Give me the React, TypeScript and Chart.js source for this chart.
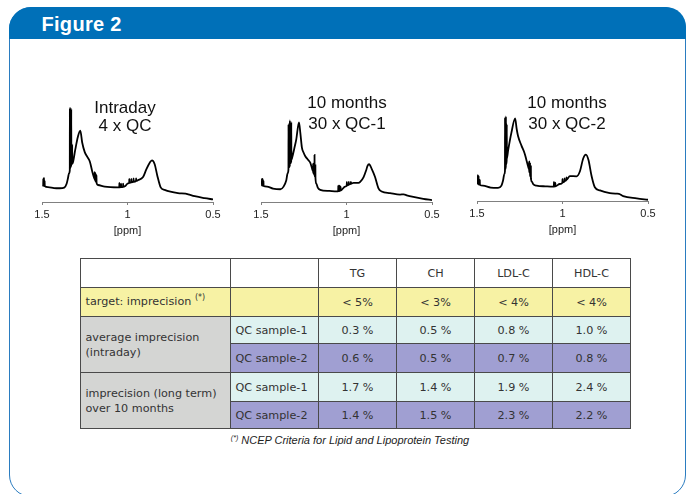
import React, { useEffect, useRef } from "react";
import { Chart, registerables } from "chart.js";

Chart.register(...registerables);

// ---------- data ----------
const ppmTicks = [1.5, 1, 0.5];

const intradaySpectrum: [number, number][] = [
  [1.497, 17.5], [1.493, 17], [1.4925, 24], [1.492, 17],
  [1.489, 16.8], [1.4885, 25], [1.488, 16.8],
  [1.485, 16.5], [1.4845, 22], [1.484, 16.5],
  [1.465, 15.5], [1.43, 14.5], [1.396, 14.3], [1.37, 15], [1.356, 19],
  [1.348, 25], [1.342, 30],
  [1.3375, 33], [1.337, 98], [1.3365, 35],
  [1.3335, 36], [1.333, 98], [1.3325, 37],
  [1.3295, 38], [1.329, 97], [1.3285, 39],
  [1.324, 40], [1.3235, 60], [1.323, 40],
  [1.318, 42], [1.305, 55], [1.29, 68], [1.276, 74.3], [1.265, 62],
  [1.25, 52], [1.235, 47], [1.22, 42], [1.205, 31], [1.195, 25],
  [1.1925, 24], [1.192, 31], [1.1915, 23.5],
  [1.188, 22.5], [1.1875, 30], [1.187, 22],
  [1.182, 21], [1.1815, 28], [1.181, 20],
  [1.173, 17.7], [1.133, 16], [1.056, 15.3],
  [1.048, 15.3], [1.0475, 20], [1.047, 15.3],
  [1.038, 15.4], [1.0375, 19], [1.037, 15.4],
  [1.026, 15.8], [1.0255, 19], [1.025, 15.8],
  [1.013, 16.7], [0.997, 19.5],
  [0.99, 20], [0.9895, 24], [0.989, 20],
  [0.978, 20.5], [0.9775, 24], [0.977, 20.5],
  [0.965, 21], [0.9645, 24.5], [0.964, 21],
  [0.95, 22], [0.9495, 24.5], [0.949, 22],
  [0.939, 22.7], [0.909, 26], [0.89, 34], [0.87, 41], [0.857, 43.3],
  [0.841, 39.3], [0.826, 27.7], [0.806, 15.3], [0.783, 12.7], [0.705, 9.3],
  [0.66, 8.7], [0.645, 8], [0.607, 6], [0.549, 4], [0.5, 2.7],
];

const qc1Spectrum: [number, number][] = [
  [1.498, 17.7],
  [1.495, 17.5], [1.4945, 24], [1.494, 17.3],
  [1.491, 17.2], [1.4905, 24], [1.49, 17],
  [1.486, 16.8], [1.4855, 22], [1.485, 16.6],
  [1.465, 16], [1.43, 14], [1.387, 13.3], [1.368, 16], [1.352, 22.7], [1.344, 30],
  [1.3395, 34], [1.339, 81], [1.3385, 36],
  [1.3315, 38], [1.331, 85], [1.3305, 40],
  [1.3235, 42], [1.323, 83], [1.3225, 44],
  [1.318, 46], [1.305, 56], [1.294, 65], [1.278, 83], [1.27, 72], [1.261, 57],
  [1.25, 51], [1.241, 47.7], [1.225, 44], [1.212, 41], [1.2, 34],
  [1.1955, 32], [1.195, 40], [1.1945, 31],
  [1.1875, 29], [1.187, 49], [1.1865, 28],
  [1.1825, 26], [1.182, 38], [1.1815, 25],
  [1.176, 19], [1.168, 15], [1.154, 12.7], [1.1, 11.5], [1.056, 11],
  [1.0485, 11.2], [1.048, 17], [1.0475, 11.4],
  [1.0405, 11.6], [1.04, 17], [1.0395, 11.8],
  [1.035, 12], [1.0345, 16], [1.034, 12],
  [1.008, 16],
  [0.9985, 17], [0.998, 21], [0.9975, 17.2],
  [0.987, 18], [0.9865, 21], [0.986, 18.2],
  [0.975, 19], [0.9745, 21], [0.974, 19],
  [0.959, 20], [0.93, 20], [0.92, 21], [0.9, 26], [0.885, 33], [0.877, 37.7],
  [0.868, 39.3], [0.852, 34.3], [0.833, 26], [0.813, 14.3], [0.794, 11],
  [0.745, 9.3], [0.687, 7.7], [0.665, 8], [0.648, 7], [0.609, 5.3], [0.551, 3.3], [0.5, 2],
];

const qc2Spectrum: [number, number][] = [
  [1.5, 19.3],
  [1.496, 18.5], [1.4955, 27], [1.495, 18],
  [1.491, 17.5], [1.4905, 26], [1.49, 17.3],
  [1.484, 17], [1.4835, 22], [1.483, 16.8],
  [1.465, 16], [1.42, 14], [1.377, 13.7], [1.357, 16], [1.348, 21], [1.34, 28],
  [1.3365, 31], [1.336, 87], [1.3355, 33],
  [1.3315, 36], [1.331, 88], [1.3305, 38],
  [1.3265, 42], [1.326, 80], [1.3255, 44],
  [1.318, 52.7], [1.299, 71], [1.277, 86], [1.268, 75], [1.26, 67.7], [1.24, 57.7],
  [1.221, 49.3], [1.21, 42], [1.201, 36],
  [1.1955, 33], [1.195, 41], [1.1945, 31],
  [1.1905, 29], [1.19, 39], [1.1895, 27],
  [1.1855, 25], [1.185, 36], [1.1845, 23],
  [1.178, 20], [1.172, 17.7], [1.152, 16], [1.1, 15.3], [1.055, 15],
  [1.0505, 15], [1.05, 20], [1.0495, 15],
  [1.0425, 15.3], [1.042, 19], [1.0415, 15.3],
  [1.016, 17.7],
  [1.0005, 19], [1.0, 23], [0.9995, 19.3],
  [0.9885, 20.5], [0.988, 23.5], [0.9875, 20.8],
  [0.977, 22], [0.9765, 24.5], [0.976, 22.2],
  [0.957, 26], [0.918, 25.7], [0.898, 31], [0.879, 44.3], [0.863, 48.3],
  [0.848, 42.7], [0.83, 26], [0.811, 14.3], [0.781, 11], [0.723, 8.3],
  [0.684, 7.7], [0.67, 7.5], [0.645, 5], [0.566, 2.7], [0.5, 1.3],
];

const spectrumTitles = [
  ["Intraday", "4 x QC"],
  ["10 months", "30 x QC-1"],
  ["10 months", "30 x QC-2"],
];

const analytes = ["TG", "CH", "LDL-C", "HDL-C"];
const targetImprecision = ["< 5%", "< 3%", "< 4%", "< 4%"];
const intradayQc1 = ["0.3 %", "0.5 %", "0.8 %", "1.0 %"];
const intradayQc2 = ["0.6 %", "0.5 %", "0.7 %", "0.8 %"];
const longTermQc1 = ["1.7 %", "1.4 %", "1.9 %", "2.4 %"];
const longTermQc2 = ["1.4 %", "1.5 %", "2.3 %", "2.2 %"];

// ---------- styles ----------
const SANS = "'Liberation Sans', Arial, Helvetica, sans-serif";
const VERDANA = "'DejaVu Sans', Verdana, sans-serif";
const BLUE = "#0070b8";
const YELLOW = "#f7f2a4";
const CYAN = "#def2f0";
const LAVENDER = "#a09fd2";
const GRAY = "#d4d5d3";

function Spectrum({ data, left, top }: { data: [number, number][]; left: number; top: number }) {
  const ref = useRef<HTMLCanvasElement | null>(null);
  useEffect(() => {
    if (!ref.current) return;
    const chart = new Chart(ref.current, {
      type: "line",
      data: {
        datasets: [
          {
            data: data.map(([x, y]) => ({ x, y })),
            borderColor: "#000",
            borderWidth: 1.8,
            pointRadius: 0,
            fill: false,
            cubicInterpolationMode: "monotone",
          },
        ],
      },
      options: {
        animation: false,
        responsive: false,
        layout: { padding: { left: 14, right: 14, top: 4, bottom: 0.8 } },
        plugins: { legend: { display: false }, tooltip: { enabled: false } },
        scales: {
          x: {
            type: "linear",
            reverse: true,
            min: 0.5,
            max: 1.5,
            afterBuildTicks: (s: any) => {
              s.ticks = ppmTicks.map((v) => ({ value: v }));
            },
            ticks: {
              callback: (v: any) => String(v),
              font: { family: SANS, size: 11, lineHeight: 1 },
              color: "#222",
              padding: 4,
              maxRotation: 0,
              autoSkip: false,
            },
            grid: { display: true, drawOnChartArea: false, drawTicks: true, tickLength: 3, color: "#808080" },
            border: { display: true, color: "#808080", width: 1 },
            title: {
              display: true,
              text: "[ppm]",
              font: { family: SANS, size: 11 },
              color: "#222",
              padding: { top: 0, bottom: 0 },
            },
          },
          y: { display: false, min: 0, max: 100 },
        },
      } as any,
    });
    return () => chart.destroy();
  }, [data]);
  return (
    <canvas
      ref={ref}
      width={199}
      height={136}
      style={{ position: "absolute", left, top, width: 199, height: 136 }}
    />
  );
}

function Title({ lines, cx, baselines }: { lines: string[]; cx: number; baselines: number[] }) {
  return (
    <>
      {lines.map((t, i) => (
        <div
          key={i}
          style={{
            position: "absolute",
            left: cx - 100,
            width: 200,
            top: baselines[i] - 14.4,
            textAlign: "center",
            fontFamily: SANS,
            fontSize: 17,
            lineHeight: "17px",
            color: "#111",
            whiteSpace: "nowrap",
          }}
        >
          {t}
        </div>
      ))}
    </>
  );
}

const cell: React.CSSProperties = {
  border: "1px solid #4a4a4a",
  padding: "0 4.5px",
  fontFamily: VERDANA,
  fontSize: 11.2,
  color: "#333",
  verticalAlign: "middle",
  whiteSpace: "nowrap",
  lineHeight: "15px",
};

function ValueCells({ values, bg }: { values: string[]; bg: string }) {
  return (
    <>
      {values.map((v, i) => (
        <td key={i} style={{ ...cell, background: bg, textAlign: "center" }}>
          {v}
        </td>
      ))}
    </>
  );
}

function DataTable() {
  return (
    <table
      style={{
        position: "absolute",
        left: 80,
        top: 258,
        width: 550,
        borderCollapse: "collapse",
        tableLayout: "fixed",
      }}
    >
      <colgroup>
        <col style={{ width: 150 }} />
        <col style={{ width: 88 }} />
        <col style={{ width: 78 }} />
        <col style={{ width: 78 }} />
        <col style={{ width: 78 }} />
        <col style={{ width: 78 }} />
      </colgroup>
      <tbody>
        <tr style={{ height: 29 }}>
          <td style={{ ...cell, background: "#fff" }}></td>
          <td style={{ ...cell, background: "#fff" }}></td>
          {analytes.map((a) => (
            <td key={a} style={{ ...cell, background: "#fff", textAlign: "center" }}>
              {a}
            </td>
          ))}
        </tr>
        <tr style={{ height: 29 }}>
          <td style={{ ...cell, background: YELLOW }}>
            target: imprecision{" "}
            <span style={{ fontSize: 8, position: "relative", top: -5 }}>(*)</span>
          </td>
          <td style={{ ...cell, background: YELLOW }}></td>
          <ValueCells values={targetImprecision} bg={YELLOW} />
        </tr>
        <tr style={{ height: 27 }}>
          <td rowSpan={2} style={{ ...cell, background: GRAY }}>
            average imprecision
            <br />
            (intraday)
          </td>
          <td style={{ ...cell, background: CYAN }}>QC sample-1</td>
          <ValueCells values={intradayQc1} bg={CYAN} />
        </tr>
        <tr style={{ height: 29 }}>
          <td style={{ ...cell, background: LAVENDER }}>QC sample-2</td>
          <ValueCells values={intradayQc2} bg={LAVENDER} />
        </tr>
        <tr style={{ height: 29 }}>
          <td rowSpan={2} style={{ ...cell, background: GRAY }}>
            imprecision (long term)
            <br />
            over 10 months
          </td>
          <td style={{ ...cell, background: CYAN }}>QC sample-1</td>
          <ValueCells values={longTermQc1} bg={CYAN} />
        </tr>
        <tr style={{ height: 27 }}>
          <td style={{ ...cell, background: LAVENDER }}>QC sample-2</td>
          <ValueCells values={longTermQc2} bg={LAVENDER} />
        </tr>
      </tbody>
    </table>
  );
}

export default function App() {
  return (
    <div
      style={{
        position: "absolute",
        left: 0,
        top: 0,
        width: 686,
        height: 494,
        overflow: "hidden",
        background: "#fff",
      }}
    >
      {/* frame */}
      <div
        style={{
          position: "absolute",
          left: 9,
          top: 7,
          width: 677,
          height: 490,
          boxSizing: "border-box",
          border: "1.5px solid #2a7cc0",
          borderRadius: 22,
        }}
      />
      {/* header */}
      <div
        style={{
          position: "absolute",
          left: 9,
          top: 7,
          width: 677,
          height: 32,
          background: BLUE,
          borderTopLeftRadius: 22,
          borderTopRightRadius: 20,
        }}
      />
      <div
        style={{
          position: "absolute",
          left: 41.5,
          top: 13.8,
          fontFamily: SANS,
          fontWeight: "bold",
          fontSize: 20,
          lineHeight: "20px",
          color: "#fff",
          letterSpacing: 0.3,
        }}
      >
        Figure 2
      </div>

      <Spectrum data={intradaySpectrum} left={28} top={102} />
      <Spectrum data={qc1Spectrum} left={247} top={102} />
      <Spectrum data={qc2Spectrum} left={463} top={101} />

      <Title lines={spectrumTitles[0]} cx={125} baselines={[113, 131]} />
      <Title lines={spectrumTitles[1]} cx={347} baselines={[108, 129]} />
      <Title lines={spectrumTitles[2]} cx={567} baselines={[108, 129]} />

      <DataTable />

      <div
        style={{
          position: "absolute",
          left: 150,
          width: 400,
          top: 434,
          textAlign: "center",
          fontFamily: SANS,
          fontStyle: "italic",
          fontSize: 11,
          lineHeight: "12px",
          color: "#222",
          whiteSpace: "nowrap",
        }}
      >
        <span style={{ fontSize: 7, position: "relative", top: -4 }}>(*)</span> NCEP Criteria for Lipid and
        Lipoprotein Testing
      </div>
    </div>
  );
}
